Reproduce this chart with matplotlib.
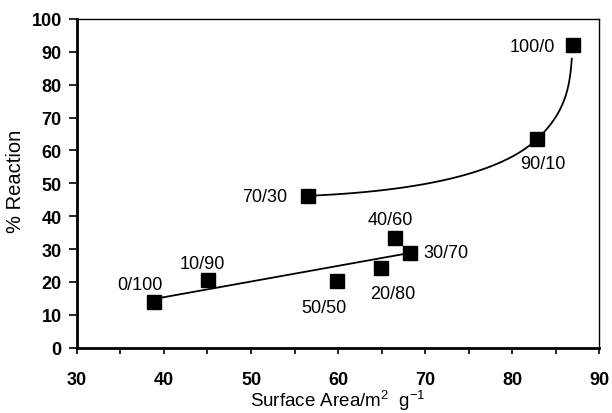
import numpy as np
import matplotlib
matplotlib.use('Agg')
import matplotlib.pyplot as plt
from matplotlib.ticker import MultipleLocator

plt.rcParams['font.family'] = ['Liberation Sans', 'DejaVu Sans']
plt.rcParams['mathtext.default'] = 'regular'

# blend ratio labels and measured values
labels = ['0/100', '10/90', '50/50', '20/80', '40/60', '30/70', '70/30', '90/10', '100/0']
surface_area = [38.8, 45.1, 59.85, 64.9, 66.5, 68.3, 56.5, 82.9, 87.0]
reaction = [13.9, 20.6, 20.3, 24.3, 33.5, 28.9, 46.2, 63.5, 92.2]

# label offsets in pixels (dx, dy) and alignment
label_pos = {
    '0/100': (-14, 18, 'center'),
    '10/90': (-6, 16, 'center'),
    '50/50': (-13, -27, 'center'),
    '20/80': (12, -26, 'center'),
    '40/60': (-4, 18, 'center'),
    '30/70': (13, 0, 'left'),
    '70/30': (-20, -1, 'right'),
    '90/10': (6, -25, 'center'),
    '100/0': (-18, -2, 'right'),
}

low_group = labels[:6]      # linear trend
high_group = ['70/30', '90/10', '100/0']  # smooth curve


def hermite_curve(p0, p1, t0, t1, n=60):
    t = np.linspace(0, 1, n)[:, None]
    h00 = 2*t**3 - 3*t**2 + 1
    h10 = t**3 - 2*t**2 + t
    h01 = -2*t**3 + 3*t**2
    h11 = t**3 - t**2
    return h00*p0 + h10*t0 + h01*p1 + h11*t1


fig = plt.figure(figsize=(6.12, 4.14), dpi=100)
ax = fig.add_axes([0.1258, 0.1577, 0.8530, 0.7940])

# linear fit through the low group
idx = [labels.index(l) for l in low_group]
xs = np.array([surface_area[i] for i in idx])
ys = np.array([reaction[i] for i in idx])
k, b = np.polyfit(xs, ys, 1)
xl = np.array([xs.min(), xs.max()])
ax.plot(xl, k*xl + b, color='black', lw=1.3, zorder=2)

# smooth curve through the high group
pts = np.array([[surface_area[labels.index(l)], reaction[labels.index(l)]] for l in high_group])
A, B, C = pts
tB = np.array([12.0, 30.0])
tA = 2*(B - A) - tB
tC = np.array([1.0, 28.0])
seg1 = hermite_curve(A, B, tA, tB)
seg2 = hermite_curve(B, C, tB, tC)
curve = np.vstack([seg1, seg2])
curve = curve[curve[:, 1] <= 88.0]
ax.plot(curve[:, 0], curve[:, 1], color='black', lw=1.3, zorder=2)

ax.plot(surface_area, reaction, linestyle='none', marker='s', markersize=10.5,
        color='black', zorder=3)

for lab, x, y in zip(labels, surface_area, reaction):
    dx, dy, ha = label_pos[lab]
    ax.annotate(lab, (x, y), xytext=(dx, dy), textcoords='offset pixels',
                ha=ha, va='center', fontsize=13)

ax.set_xlim(30, 90)
ax.set_ylim(0, 100)
ax.xaxis.set_major_locator(MultipleLocator(10))
ax.xaxis.set_minor_locator(MultipleLocator(5))
ax.yaxis.set_major_locator(MultipleLocator(10))

ax.tick_params(axis='x', which='both', direction='out', length=4, width=1.2, pad=13,
               labelsize=13, top=False)
ax.tick_params(axis='y', which='both', direction='out', length=6, width=1.2, pad=5,
               labelsize=13, right=False)
for lab in ax.get_xticklabels() + ax.get_yticklabels():
    lab.set_fontweight('bold')

ax.spines['left'].set_linewidth(2)
ax.spines['bottom'].set_linewidth(2)
ax.spines['top'].set_linewidth(1)
ax.spines['right'].set_linewidth(1)

ax.set_xlabel('Surface Area/m$^2$  g$^{-1}$', fontsize=13.5)
ax.xaxis.set_label_coords(0.5, -0.122)
ax.set_ylabel('% Reaction', fontsize=14.5)
ax.yaxis.set_label_coords(-0.10, 0.51)

fig.savefig('out.png', dpi=100)
